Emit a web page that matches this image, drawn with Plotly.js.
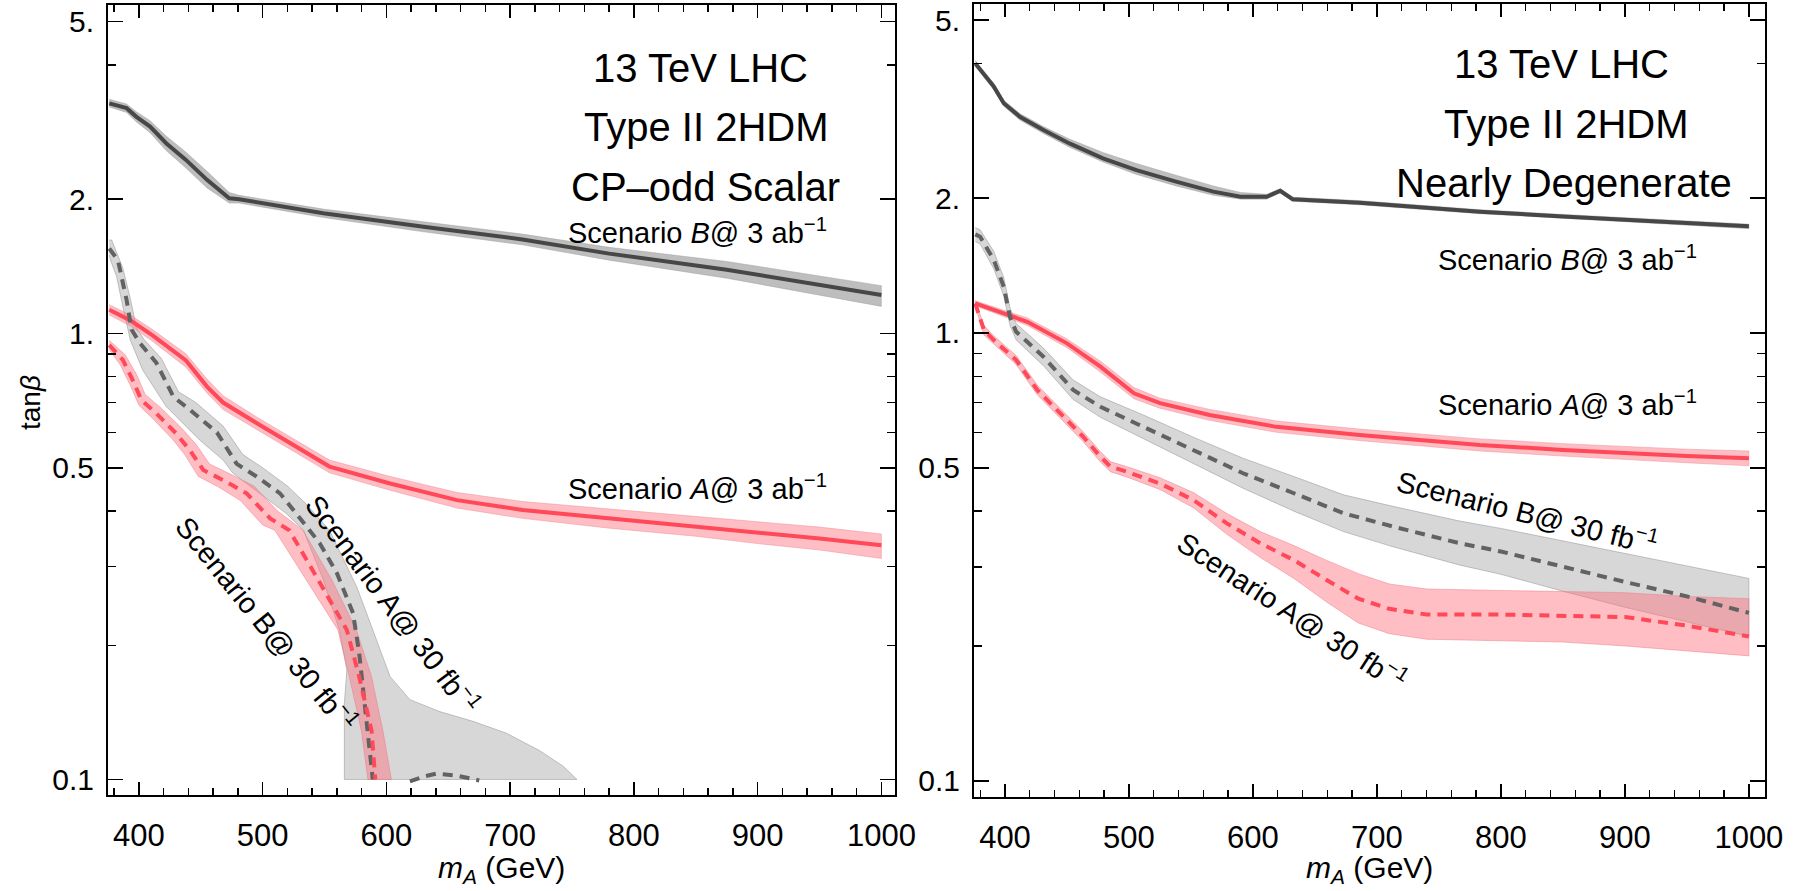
<!DOCTYPE html>
<html>
<head>
<meta charset="utf-8">
<script src="https://cdn.plot.ly/plotly-3.0.1.min.js"></script>
<style>html,body{margin:0;padding:0;background:#fff;}#chart{width:1800px;height:891px;}</style>
</head>
<body>
<div id="chart"></div>
<script>
// ---------------- DATA ----------------
// Left panel: CP-odd scalar
const L_B3_x  = [376, 390, 398, 409, 422, 438, 455, 473, 481, 549, 630, 710, 780, 875, 1000];
const L_B3_y  = [3.28, 3.20, 3.06, 2.91, 2.67, 2.45, 2.21, 2.01, 2.00, 1.86, 1.735, 1.625, 1.51, 1.39, 1.22];
const L_B3_hi = [3.35, 3.27, 3.14, 3.00, 2.77, 2.55, 2.31, 2.07, 2.04, 1.90, 1.78, 1.67, 1.56, 1.45, 1.28];
const L_B3_lo = [3.22, 3.13, 2.98, 2.82, 2.57, 2.35, 2.12, 1.96, 1.96, 1.82, 1.69, 1.58, 1.46, 1.33, 1.15];

const L_A3_x  = [376, 393, 411, 438, 455, 468, 495, 527, 554, 603, 657, 710, 780, 850, 900, 950, 1000];
const L_A3_y  = [1.13, 1.07, 0.99, 0.87, 0.76, 0.70, 0.63, 0.557, 0.503, 0.461, 0.423, 0.402, 0.385, 0.370, 0.358, 0.347, 0.335];
const L_A3_hi = [1.16, 1.10, 1.02, 0.90, 0.79, 0.725, 0.65, 0.575, 0.52, 0.478, 0.44, 0.42, 0.404, 0.39, 0.379, 0.368, 0.355];
const L_A3_lo = [1.10, 1.04, 0.96, 0.84, 0.735, 0.675, 0.61, 0.54, 0.487, 0.445, 0.406, 0.385, 0.366, 0.351, 0.338, 0.327, 0.313];

const L_G30_x = [376, 383, 390, 394, 401, 414, 428, 441, 463, 479, 495, 514, 527, 538, 546, 560, 573, 578, 581, 585, 589];
const L_G30_y = [1.55, 1.46, 1.19, 1.02, 0.95, 0.86, 0.72, 0.675, 0.60, 0.51, 0.478, 0.438, 0.395, 0.363, 0.339, 0.29, 0.236, 0.192, 0.159, 0.129, 0.10];
const L_G30b_x = [619, 630, 640, 657, 675];
const L_G30b_y = [0.099, 0.1015, 0.103, 0.102, 0.0995];
const L_G30_upX = [376, 378, 387, 393, 398, 404, 418, 432, 446, 468, 484, 500, 520, 535, 554, 576, 592, 603, 619, 643, 670, 697, 724, 743, 754];
const L_G30_upY = [1.62, 1.62, 1.40, 1.20, 1.03, 0.97, 0.88, 0.74, 0.70, 0.62, 0.535, 0.50, 0.455, 0.415, 0.362, 0.2705, 0.2055, 0.170, 0.151, 0.142, 0.135, 0.127, 0.116, 0.107, 0.100];
const L_G30_loX = [376, 377, 382, 387, 393, 403, 422, 449, 468, 476, 519, 533, 549, 562, 568, 566, 566];
const L_G30_loY = [1.50, 1.46, 1.34, 1.148, 0.967, 0.828, 0.686, 0.577, 0.52, 0.486, 0.395, 0.362, 0.28, 0.216, 0.176, 0.148, 0.10];

const L_R30_x = [376, 387, 395, 402, 414, 430, 441, 452, 468, 487, 506, 521.5, 545, 568, 578, 588, 591];
const L_R30_y = [0.942, 0.872, 0.786, 0.709, 0.662, 0.597, 0.548, 0.494, 0.469, 0.438, 0.385, 0.362, 0.28, 0.2164, 0.17, 0.1285, 0.10];
const L_R30_upX = [376, 389, 398, 405, 418, 434, 446, 457, 473, 493, 512, 532.6, 556, 575.7, 588, 597.2, 604];
const L_R30_upY = [0.965, 0.895, 0.81, 0.73, 0.68, 0.615, 0.565, 0.51, 0.485, 0.455, 0.40, 0.362, 0.28, 0.2164, 0.17, 0.1285, 0.10];
const L_R30_loX = [376, 385, 393, 400, 411, 427, 437, 448, 464, 482, 500, 509.8, 535, 560.8, 570, 579.8, 585];
const L_R30_loY = [0.92, 0.85, 0.765, 0.69, 0.645, 0.58, 0.535, 0.478, 0.453, 0.422, 0.372, 0.362, 0.28, 0.2164, 0.17, 0.1285, 0.10];

// Right panel: nearly degenerate
const R_B3_x  = [376, 391, 399, 412, 431, 452, 479, 506, 538, 568, 590, 611, 622, 632, 686, 783, 850, 900, 950, 1000];
const R_B3_y  = [4.0, 3.55, 3.26, 3.04, 2.84, 2.65, 2.455, 2.31, 2.177, 2.068, 2.015, 2.015, 2.078, 1.989, 1.954, 1.866, 1.82, 1.79, 1.76, 1.73];
const R_B3_hi = [4.06, 3.61, 3.31, 3.09, 2.89, 2.71, 2.53, 2.39, 2.25, 2.13, 2.06, 2.04, 2.10, 2.01, 1.975, 1.885, 1.84, 1.81, 1.78, 1.75];
const R_B3_lo = [3.94, 3.49, 3.21, 2.99, 2.79, 2.60, 2.41, 2.26, 2.13, 2.03, 1.99, 1.99, 2.055, 1.968, 1.933, 1.847, 1.80, 1.77, 1.74, 1.71];

const R_A3_x  = [376, 399, 418, 450, 477, 504, 525, 565, 619, 686, 783, 850, 907, 950, 1000];
const R_A3_y  = [1.165, 1.106, 1.059, 0.948, 0.841, 0.733, 0.697, 0.656, 0.617, 0.592, 0.562, 0.548, 0.538, 0.531, 0.525];
const R_A3_hi = [1.18, 1.125, 1.08, 0.97, 0.865, 0.755, 0.715, 0.675, 0.636, 0.61, 0.58, 0.566, 0.556, 0.55, 0.545];
const R_A3_lo = [1.15, 1.088, 1.04, 0.927, 0.818, 0.713, 0.679, 0.638, 0.60, 0.575, 0.545, 0.531, 0.52, 0.513, 0.505];

const R_G30_x  = [376, 380, 391, 399, 404, 409, 431, 455, 477, 512, 552, 592, 633, 673, 713, 767, 800, 850, 900, 950, 1000];
const R_G30_y  = [1.66, 1.64, 1.455, 1.268, 1.087, 1.006, 0.885, 0.746, 0.684, 0.617, 0.548, 0.486, 0.4385, 0.3957, 0.3694, 0.339, 0.325, 0.300, 0.278, 0.258, 0.237];
const R_G30_hi = [1.72, 1.70, 1.52, 1.33, 1.14, 1.05, 0.925, 0.785, 0.72, 0.655, 0.585, 0.525, 0.478, 0.435, 0.41, 0.38, 0.366, 0.343, 0.322, 0.302, 0.283];
const R_G30_lo = [1.60, 1.58, 1.39, 1.21, 1.04, 0.965, 0.845, 0.71, 0.648, 0.58, 0.51, 0.45, 0.40, 0.36, 0.333, 0.303, 0.289, 0.265, 0.244, 0.226, 0.210];

const R_R30_x  = [376, 383, 391, 409, 426, 442, 463, 477, 485, 498, 525, 552, 579, 606, 633, 660, 685, 710, 740, 800, 850, 900, 950, 1000];
const R_R30_y  = [1.165, 1.015, 0.964, 0.870, 0.746, 0.673, 0.587, 0.529, 0.503, 0.49, 0.461, 0.4235, 0.3756, 0.339, 0.311, 0.28, 0.255, 0.242, 0.235, 0.235, 0.234, 0.232, 0.222, 0.21];
const R_R30_hi = [1.18, 1.04, 0.985, 0.89, 0.765, 0.69, 0.602, 0.543, 0.516, 0.503, 0.475, 0.44, 0.395, 0.36, 0.335, 0.31, 0.29, 0.275, 0.268, 0.266, 0.265, 0.263, 0.258, 0.255];
const R_R30_lo = [1.15, 0.99, 0.944, 0.85, 0.728, 0.656, 0.572, 0.515, 0.49, 0.477, 0.447, 0.407, 0.355, 0.315, 0.283, 0.25, 0.225, 0.213, 0.207, 0.205, 0.204, 0.2, 0.195, 0.19];

// Ticks
const X_TICKS = [400, 500, 600, 700, 800, 900, 1000];
const X_TICKTEXT = ['400', '500', '600', '700', '800', '900', '1000'];
const Y_TICKS = [0.1, 0.5, 1, 2, 5];
const Y_TICKTEXT = ['0.1', '0.5', '1.', '2.', '5.'];
const Y_MINOR = [0.2, 0.3, 0.4, 0.6, 0.7, 0.8, 0.9, 4];

// ---------------- STYLE ----------------
const FONT = 'Liberation Sans, Arial, Helvetica, sans-serif';
const C_GLINE = '#474747';
const C_GBAND_SOLID = 'rgba(110,110,110,0.45)';
const C_GBAND = 'rgba(175,175,175,0.5)';
const C_RLINE = 'rgb(255,72,88)';
const C_RBAND = 'rgba(255,110,125,0.45)';
const C_GDASH = '#626262';

function band(xs, hi, lo, xaxis, yaxis, color, edge) {
  return {x: xs.concat(xs.slice().reverse()), y: hi.concat(lo.slice().reverse()),
    xaxis: xaxis, yaxis: yaxis, mode: 'lines', fill: 'toself', fillcolor: color,
    line: {width: edge ? 0.8 : 0, color: edge || color}, hoverinfo: 'skip', showlegend: false};
}
function poly(ux, uy, lx, ly, xaxis, yaxis, color, edge) {
  return {x: ux.concat(lx.slice().reverse()), y: uy.concat(ly.slice().reverse()),
    xaxis: xaxis, yaxis: yaxis, mode: 'lines', fill: 'toself', fillcolor: color,
    line: {width: 0.8, color: edge}, hoverinfo: 'skip', showlegend: false};
}
function line(xs, ys, xaxis, yaxis, color, width, dash) {
  return {x: xs, y: ys, xaxis: xaxis, yaxis: yaxis, mode: 'lines',
    line: {color: color, width: width, dash: dash || 'solid'}, hoverinfo: 'skip', showlegend: false};
}
const DASH = '10px,7px';

const traces = [
  // left
  poly(L_G30_upX, L_G30_upY, L_G30_loX, L_G30_loY, 'x', 'y', C_GBAND, 'rgba(140,140,140,0.6)'),
  poly(L_R30_upX, L_R30_upY, L_R30_loX, L_R30_loY, 'x', 'y', C_RBAND, 'rgba(235,120,130,0.6)'),
  band(L_B3_x, L_B3_hi, L_B3_lo, 'x', 'y', C_GBAND_SOLID, 'rgba(150,150,150,0.5)'),
  band(L_A3_x, L_A3_hi, L_A3_lo, 'x', 'y', C_RBAND, 'rgba(235,140,150,0.6)'),
  line(L_B3_x, L_B3_y, 'x', 'y', C_GLINE, 4),
  line(L_A3_x, L_A3_y, 'x', 'y', C_RLINE, 4),
  line(L_G30_x, L_G30_y, 'x', 'y', C_GDASH, 4, DASH),
  line(L_G30b_x, L_G30b_y, 'x', 'y', C_GDASH, 4, DASH),
  line(L_R30_x, L_R30_y, 'x', 'y', C_RLINE, 4, DASH),
  // right
  band(R_G30_x, R_G30_hi, R_G30_lo, 'x2', 'y2', C_GBAND, 'rgba(140,140,140,0.6)'),
  band(R_R30_x, R_R30_hi, R_R30_lo, 'x2', 'y2', C_RBAND, 'rgba(235,120,130,0.6)'),
  band(R_B3_x, R_B3_hi, R_B3_lo, 'x2', 'y2', C_GBAND_SOLID, 'rgba(150,150,150,0.5)'),
  band(R_A3_x, R_A3_hi, R_A3_lo, 'x2', 'y2', C_RBAND, 'rgba(235,140,150,0.6)'),
  line(R_B3_x, R_B3_y, 'x2', 'y2', C_GLINE, 4),
  line(R_A3_x, R_A3_y, 'x2', 'y2', C_RLINE, 4),
  line(R_G30_x, R_G30_y, 'x2', 'y2', C_GDASH, 4, DASH),
  line(R_R30_x, R_R30_y, 'x2', 'y2', C_RLINE, 4, DASH)
];

const W = 1800, H = 891;
const px = v => v / W, py = v => 1 - v / H;

function xax(d0, d1, rng, anchor) {
  return {domain: [px(d0), px(d1)], range: rng, anchor: anchor,
    tickmode: 'array', tickvals: X_TICKS, ticktext: X_TICKTEXT,
    ticks: 'inside', ticklen: 13, tickwidth: 1.6, tickcolor: '#000',
    minor: {tickmode: 'linear', tick0: 0, dtick: 20, ticks: 'inside', ticklen: 7, tickwidth: 1.4, tickcolor: '#000'},
    showline: true, linecolor: '#000', linewidth: 2, mirror: 'allticks',
    showgrid: false, zeroline: false, ticklabelstandoff: 12,
    tickfont: {family: FONT, size: 31, color: '#000'}};
}
function yax(d0, d1, rng, anchor) {
  return {domain: [py(d1), py(d0)], range: rng, type: 'log', anchor: anchor,
    tickmode: 'array', tickvals: Y_TICKS, ticktext: Y_TICKTEXT,
    ticks: 'inside', ticklen: 15, tickwidth: 1.6, tickcolor: '#000',
    minor: {tickmode: 'array', tickvals: Y_MINOR, ticks: 'inside', ticklen: 8, tickwidth: 1.4, tickcolor: '#000'},
    showline: true, linecolor: '#000', linewidth: 2, mirror: 'allticks',
    showgrid: false, zeroline: false, ticklabelstandoff: 6,
    tickfont: {family: FONT, size: 30, color: '#000'}};
}

function ann(text, x, y, size, angle) {
  return {text: text, xref: 'paper', yref: 'paper', x: px(x), y: py(y),
    xanchor: 'center', yanchor: 'middle', showarrow: false, textangle: angle || 0,
    font: {family: FONT, size: size, color: '#000'}};
}

const annotations = [
  ann('13 TeV LHC', 700, 68, 40),
  ann('Type II 2HDM', 706, 127, 40),
  ann('CP–odd Scalar', 705, 187, 40),
  ann('Scenario <i>B</i>@ 3 ab<sup>−1</sup>', 697, 231, 29),
  ann('Scenario <i>A</i>@ 3 ab<sup>−1</sup>', 697, 487, 29),
  ann('Scenario A@ 30 fb<sup>−1</sup>', 393, 603, 29, 53),
  ann('Scenario B@ 30 fb<sup>−1</sup>', 267, 623, 29, 51),
  ann('13 TeV LHC', 1561, 64, 40),
  ann('Type II 2HDM', 1566, 124, 40),
  ann('Nearly Degenerate', 1564, 183, 40),
  ann('Scenario <i>B</i>@ 3 ab<sup>−1</sup>', 1567, 258, 29),
  ann('Scenario <i>A</i>@ 3 ab<sup>−1</sup>', 1567, 403, 29),
  ann('Scenario B@ 30 fb<sup>−1</sup>', 1527, 511, 29, 14),
  ann('Scenario A@ 30 fb<sup>−1</sup>', 1292, 610, 29, 33),
  ann('tan<i>β</i>', 30, 403, 28, -90),
  ann('<i>m</i><sub><i>A</i></sub> (GeV)', 501, 869, 30),
  ann('<i>m</i><sub><i>A</i></sub> (GeV)', 1369, 869, 30)
];

const layout = {
  width: W, height: H, margin: {l: 0, r: 0, t: 0, b: 0},
  paper_bgcolor: '#fff', plot_bgcolor: '#fff', showlegend: false,
  xaxis: xax(108, 895, [375, 1011], 'y'),
  yaxis: yax(5, 795, [-1.0348, 0.7364], 'x'),
  xaxis2: xax(974, 1765, [375, 1013], 'y2'),
  yaxis2: yax(4, 797, [-1.0364, 0.7347], 'x2'),
  annotations: annotations
};

Plotly.newPlot('chart', traces, layout, {displayModeBar: false, staticPlot: true});
</script>
</body>
</html>
